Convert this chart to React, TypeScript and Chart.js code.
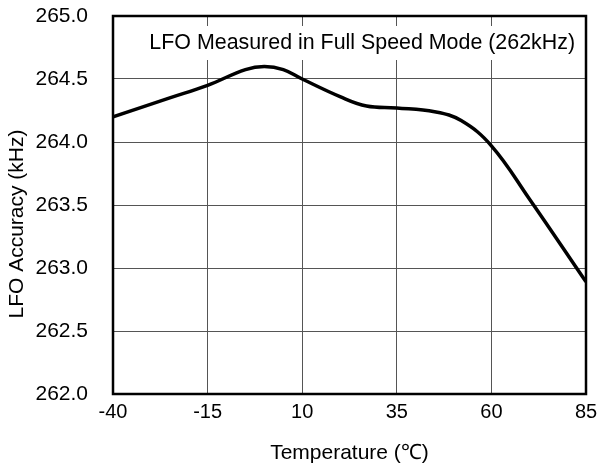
import React, { useEffect, useRef } from "react";
import { Chart, registerables } from "chart.js";

Chart.register(...registerables);

const temperatures = [-40, -25, -15, -5, 0, 5, 10, 20, 27, 35, 45, 52, 60, 70, 85];
const lfoKHz = [264.2, 264.35, 264.45, 264.575, 264.6, 264.575, 264.5, 264.36, 264.285, 264.27, 264.24, 264.17, 263.97, 263.55, 262.89];
const xTicks = [-40, -15, 10, 35, 60, 85];
const yTicks = [262.0, 262.5, 263.0, 263.5, 264.0, 264.5, 265.0];
const noteText = "LFO Measured in Full Speed Mode (262kHz)";
const xTitle = "Temperature (\u2103)";
const yTitle = "LFO Accuracy (kHz)";

const FONT = "'Liberation Sans', Arial, sans-serif";

const framePlugin = {
  id: "frame",
  beforeDatasetsDraw(chart: any) {
    const { ctx, chartArea } = chart;
    ctx.save();
    ctx.font = `21.4px ${FONT}`;
    const w = ctx.measureText(noteText).width;
    const right = chartArea.right - 11;
    const cy = chartArea.top + 27;
    ctx.fillStyle = "#fff";
    ctx.fillRect(right - w - 8, cy - 17, w + 16, 34);
    ctx.fillStyle = "#000";
    ctx.textAlign = "right";
    ctx.textBaseline = "middle";
    ctx.fillText(noteText, right, cy);
    ctx.restore();
  },
  afterDraw(chart: any) {
    const { ctx, chartArea } = chart;
    ctx.save();
    ctx.strokeStyle = "#000";
    ctx.lineWidth = 2.5;
    ctx.strokeRect(chartArea.left, chartArea.top, chartArea.right - chartArea.left, chartArea.bottom - chartArea.top);
    // y axis title, placed slightly below the plot centre as in the reference
    ctx.translate(17, 224);
    ctx.rotate(-Math.PI / 2);
    ctx.font = `21px ${FONT}`;
    ctx.fillStyle = "#000";
    ctx.textAlign = "center";
    ctx.textBaseline = "middle";
    ctx.fillText(yTitle, 0, 0);
    ctx.restore();
  },
};

export default function App() {
  const ref = useRef<HTMLCanvasElement>(null);
  useEffect(() => {
    document.body.style.margin = "0";
    const chart = new Chart(ref.current!, {
      type: "line",
      data: {
        datasets: [
          {
            data: temperatures.map((t, i) => ({ x: t, y: lfoKHz[i] })),
            borderColor: "#000",
            borderWidth: 3.5,
            pointRadius: 0,
            tension: 0.4,
            fill: false,
          },
        ],
      },
      options: {
        animation: false,
        responsive: false,
        maintainAspectRatio: false,
        layout: { padding: { top: 16, right: 13, left: 0, bottom: 0 } },
        plugins: { legend: { display: false }, tooltip: { enabled: false } },
        scales: {
          x: {
            type: "linear",
            min: -40,
            max: 85,
            afterBuildTicks: (s: any) => {
              s.ticks = xTicks.map((v) => ({ value: v }));
            },
            afterFit: (s: any) => {
              s.height = 469 - 394;
              s.paddingLeft = 0;
              s.paddingRight = 0;
            },
            grid: { color: "#555", lineWidth: 1, drawTicks: false },
            border: { display: false },
            ticks: { color: "#000", font: { family: FONT, size: 20 }, padding: 6, maxRotation: 0 },
            title: { display: true, text: xTitle, color: "#000", font: { family: FONT, size: 21 }, padding: { top: 0, bottom: 3 } },
          },
          y: {
            type: "linear",
            min: 262,
            max: 265,
            afterBuildTicks: (s: any) => {
              s.ticks = yTicks.map((v) => ({ value: v }));
            },
            afterFit: (s: any) => {
              s.width = 113;
              s.paddingTop = 0;
              s.paddingBottom = 0;
            },
            grid: { color: "#555", lineWidth: 1, drawTicks: false },
            border: { display: false },
            ticks: {
              color: "#000",
              font: { family: FONT, size: 21 },
              padding: 25,
              callback: (v: any) => Number(v).toFixed(1),
            },
            title: { display: false, text: yTitle },
          },
        },
      },
      plugins: [framePlugin],
    });
    return () => chart.destroy();
  }, []);
  return (
    <div style={{ position: "absolute", left: 0, top: 0, width: 599, height: 469, background: "#fff" }}>
      <canvas ref={ref} width={599} height={469} style={{ width: 599, height: 469 }} />
    </div>
  );
}
